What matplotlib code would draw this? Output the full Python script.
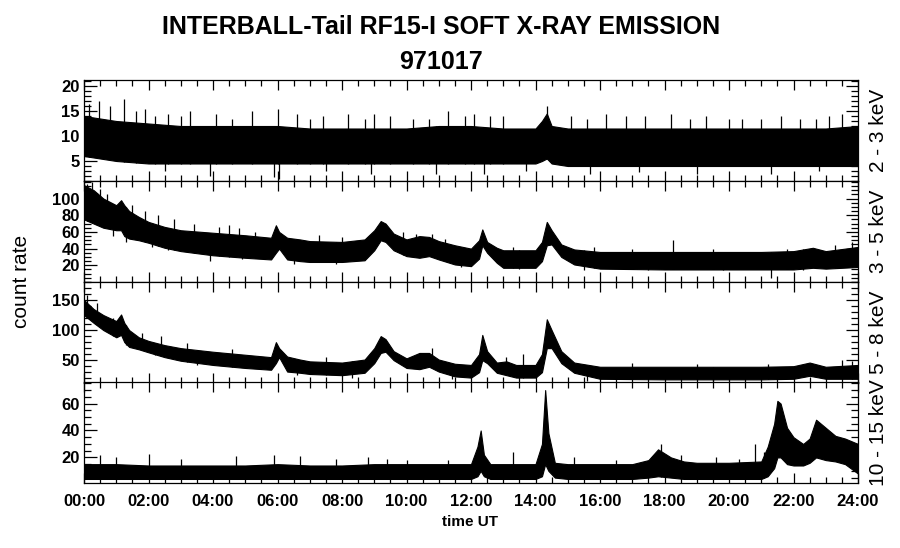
import numpy as np
import matplotlib
matplotlib.use('Agg')
import matplotlib.pyplot as plt
from matplotlib.ticker import MultipleLocator, FixedLocator

plt.rcParams['font.family'] = ['Liberation Sans', 'DejaVu Sans']

# огибающие (нижняя/верхняя граница) по каждому каналу, часы UT
t1 = [0, 0.5, 1, 2, 3, 4, 5, 6, 7, 8, 9, 10, 11, 12, 13, 14, 14.2, 14.35, 14.5,
      15, 16, 17, 18, 19, 20, 21, 22, 23, 24]
hi1 = [14, 13.5, 13, 12.5, 12, 12, 12, 12, 11.5, 11.5, 11.5, 11.5, 12, 12, 11.5, 11.5,
       13, 14.5, 12, 11.5, 11.5, 11.5, 11.5, 11.5, 11.5, 11.5, 11.5, 11.5, 12]
lo1 = [6, 5.5, 5, 4.5, 4.5, 4.5, 4.5, 4.5, 4.5, 4.5, 4.5, 4.5, 4.5, 4.5, 4.5, 4.5,
       5, 5.5, 4.5, 4, 4, 4, 4, 4, 4, 4, 4, 4, 4]
up1_t = [0.15, 0.45, 0.8, 1.25, 1.9, 2.6, 3.3, 4.1, 5.2, 6.0, 6.6, 7.4, 8.2, 9.0, 10.2,
         11.3, 12.1, 13.0, 14.35, 15.1, 16.2, 17.4, 18.2, 19.3, 20.4, 21.6, 22.7, 23.5,
         1.6, 2.2, 3.0, 4.6, 7.0, 8.7, 9.5, 10.7, 11.8, 12.6, 15.6, 16.8, 18.8, 20.0,
         21.0, 22.2, 23.1]
up1_v = [16.5, 17, 16, 17.5, 15.5, 14.5, 15, 14.5, 15, 15.5, 14.5, 14, 14.5, 14.5, 13.5,
         15, 14.5, 14, 16, 14, 14.5, 14, 14.5, 14, 13.5, 14, 13.5, 14.5,
         15, 14, 14, 13.5, 13.5, 13.5, 14, 13.5, 14, 14, 13.5, 14, 13.5, 13.5,
         13.5, 13.5, 14]
dn1_t = [3.9, 5.9, 6.05, 8.9, 10.9, 12.4, 15.7, 19.0, 21.3, 2.5, 7.5, 13.7, 17.2, 22.8]
dn1_v = [2, 1.8, 1.5, 2.5, 2.5, 2.5, 2.5, 2.5, 2.5, 3, 3, 3, 2.8, 3]

t2 = [0, 0.3, 0.6, 1.0, 1.15, 1.25, 1.4, 1.7, 2, 2.5, 3, 4, 5, 5.8, 5.95, 6.05, 6.3, 6.7,
      7, 8, 8.7, 9.0, 9.2, 9.35, 9.6, 10.0, 10.4, 10.7, 11, 11.5, 12.0, 12.25, 12.35, 12.5,
      12.8, 13, 14, 14.2, 14.35, 14.5, 14.8, 15.2, 16, 18, 20, 21, 22, 22.6, 23, 24]
hi2 = [116, 110, 100, 92, 98, 92, 85, 78, 72, 66, 62, 59, 56, 53, 68, 60, 53, 51, 49, 48,
       51, 62, 73, 70, 58, 51, 55, 54, 49, 44, 40, 50, 63, 48, 41, 38, 38, 48, 72, 62,
       45, 39, 36, 36, 36, 36, 37, 41, 37, 42]
lo2 = [75, 70, 65, 62, 62, 55, 52, 50, 47, 41, 37, 32, 29, 27, 35, 40, 27, 25, 24, 24,
       26, 38, 50, 48, 38, 31, 29, 31, 27, 21, 19, 28, 44, 35, 23, 17, 17, 25, 44, 45,
       30, 21, 16, 15, 15, 15, 15, 17, 16, 18]
up2_t = [0.1, 0.5, 1.5, 4.8, 5.3, 9.9, 10.8, 18.26, 23.8, 0.25, 0.7, 1.9, 2.3, 2.8,
         3.4, 4.2, 4.5, 7.3, 8.0, 10.3, 11.2, 13.3, 15.8, 17.0, 19.5, 21.8, 23.3]
up2_v = [118, 112, 92, 65, 60, 60, 58, 50, 48, 120, 105, 85, 80, 75,
         70, 66, 68, 56, 54, 58, 52, 42, 42, 40, 40, 40, 44]
dn2_t = [0.9, 1.3, 3.9, 21.3, 0.4, 2.1, 2.6, 4.9, 6.5, 7.8, 11.7, 13.5, 15.5, 17.5,
         19.8, 22.3]
dn2_v = [55, 48, 25, 5, 68, 42, 38, 28, 22, 22, 18, 15, 14, 14, 14, 14]

t3 = [0, 0.3, 0.6, 1.0, 1.15, 1.25, 1.4, 1.7, 2, 2.5, 3, 4, 5, 5.8, 5.95, 6.05, 6.3, 6.7,
      7, 8, 8.7, 9.0, 9.2, 9.35, 9.6, 10.0, 10.4, 10.7, 11, 11.5, 12.0, 12.25, 12.35, 12.5,
      12.8, 13.1, 13.4, 14, 14.2, 14.35, 14.5, 14.8, 15.2, 16, 18, 20, 21, 22, 22.5, 23, 24]
hi3 = [150, 135, 125, 115, 126, 112, 100, 88, 82, 75, 70, 64, 59, 55, 80, 70, 56, 51,
       48, 46, 51, 70, 90, 85, 65, 53, 62, 62, 51, 44, 42, 60, 92, 65, 46, 48, 42, 42,
       60, 118, 100, 65, 46, 39, 39, 39, 39, 40, 46, 39, 42]
lo3 = [125, 112, 100, 88, 92, 80, 72, 68, 63, 55, 49, 42, 37, 34, 45, 55, 31, 29, 27,
       25, 29, 45, 62, 64, 50, 37, 35, 39, 31, 23, 21, 30, 50, 45, 29, 25, 21, 21, 30,
       70, 70, 45, 29, 19, 18, 18, 18, 19, 24, 19, 19]
up3_t = [0.1, 13.6, 23.8, 0.4, 0.9, 1.8, 2.4, 3.2, 4.6, 7.5, 10.8, 13.1, 17.0, 19.0,
         21.2, 23.5]
up3_v = [158, 60, 48, 145, 120, 95, 90, 78, 68, 55, 70, 55, 45, 44, 43, 50]
dn3_t = [1.3, 8.3, 2.2, 3.5, 6.6, 11.4, 15.6, 19.5]
dn3_v = [75, 20, 58, 42, 25, 18, 16, 15]

t4 = [0, 1, 2, 3, 4, 5, 6, 7, 8, 9, 10, 11, 12.0, 12.2, 12.3, 12.4, 12.6, 13, 14.0,
      14.2, 14.3, 14.4, 14.6, 15, 16, 17, 17.5, 17.8, 18.2, 18.6, 19, 20, 21.0, 21.2,
      21.4, 21.5, 21.6, 21.8, 22.0, 22.3, 22.5, 22.7, 23.0, 23.3, 23.6, 24]
hi4 = [15, 15, 14, 14, 14, 14, 15, 14, 14, 15, 15, 15, 15, 28, 40, 22, 15, 15, 15, 30,
       70, 38, 16, 15, 15, 15, 18, 26, 20, 17, 16, 16, 17, 28, 45, 62, 60, 42, 35, 30,
       34, 48, 42, 36, 34, 30]
lo4 = [4, 4, 4, 4, 4, 4, 4, 4, 4, 4, 4, 4, 4, 6, 10, 6, 4, 4, 4, 6, 15, 10, 5, 4, 4, 4,
       5, 6, 5, 4, 4, 4, 4, 6, 12, 20, 20, 15, 14, 14, 16, 20, 18, 17, 15, 8]
up4_t = [0.5, 2.0, 4.7, 5.9, 6.7, 9.4, 11.3, 13.3, 18.5, 20.8, 21.1, 1.0, 3.0, 7.8,
         8.8, 10.0, 15.2, 16.5, 17.9, 19.6, 20.3]
up4_v = [22, 22.5, 21, 22, 21, 19, 18, 24, 22, 30, 24, 20, 19, 19,
         20, 18, 20, 18, 30, 20, 19]

bands = ['2 - 3 keV', '3 - 5 keV', '5 - 8 keV', '10 - 15 keV']
hour_labels = ['%02d:00' % h for h in range(0, 25, 2)]

panels = [
    (t1, lo1, hi1, up1_t, up1_v, dn1_t, dn1_v, (1, 21.2), [5, 10, 15, 20], 1),
    (t2, lo2, hi2, up2_t, up2_v, dn2_t, dn2_v, (0, 121), [20, 40, 60, 80, 100], 5),
    (t3, lo3, hi3, up3_t, up3_v, dn3_t, dn3_v, (12, 180), [50, 100, 150], 10),
    (t4, lo4, hi4, up4_t, up4_v, [], [], (1, 76), [20, 40, 60], 5),
]

W, H = 900, 548
fig = plt.figure(figsize=(W / 100, H / 100), dpi=100)
top_px = [80, 181, 282, 382]
ph = 101

for i, (t, lo, hi, ut, uv, dt, dv, ylim, yt, ym) in enumerate(panels):
    ax = fig.add_axes([84 / W, 1 - (top_px[i] + ph) / H, 774 / W, ph / H])
    ax.fill_between(t, lo, hi, color='black', lw=0.8, edgecolor='black')
    if ut:
        ax.vlines(ut, np.interp(ut, t, lo), uv, color='black', lw=0.9)
    if dt:
        ax.vlines(dt, dv, np.interp(dt, t, hi), color='black', lw=0.9)
    ax.set_xlim(0, 24)
    ax.set_ylim(*ylim)
    ax.xaxis.set_major_locator(FixedLocator(range(0, 25, 2)))
    ax.xaxis.set_minor_locator(MultipleLocator(0.5))
    ax.yaxis.set_major_locator(FixedLocator(yt))
    ax.yaxis.set_minor_locator(MultipleLocator(ym))
    ax.tick_params(which='both', direction='in', top=True, right=True, width=0.9,
                   labelsize=12, pad=3)
    ax.tick_params(axis='x', which='major', length=7)
    ax.tick_params(axis='x', which='minor', length=4)
    ax.tick_params(axis='y', which='major', length=9)
    ax.tick_params(axis='y', which='minor', length=5)
    for lab in ax.get_yticklabels():
        lab.set_fontweight('bold')
    if i == 3:
        ax.set_xticklabels(hour_labels, fontweight='bold')
        ax.tick_params(axis='x', pad=8)
    else:
        ax.set_xticklabels([])
    for s in ax.spines.values():
        s.set_linewidth(0.9)
    ax.text(1.026, 0.5, bands[i], rotation=90, transform=ax.transAxes,
            ha='center', va='center', fontsize=15)

fig.text(0.49, 1 - 27 / H, 'INTERBALL-Tail RF15-I SOFT X-RAY EMISSION',
         ha='center', va='center', fontsize=18, fontweight='bold')
fig.text(0.49, 1 - 62 / H, '971017', ha='center', va='center', fontsize=18,
         fontweight='bold')
fig.text(22 / W, 1 - 281 / H, 'count rate', rotation=90, ha='center', va='center',
         fontsize=15)
fig.text(470 / W, 1 - 522 / H, 'time UT', ha='center', va='center', fontsize=11,
         fontweight='bold')

fig.savefig('out.png', dpi=100)
